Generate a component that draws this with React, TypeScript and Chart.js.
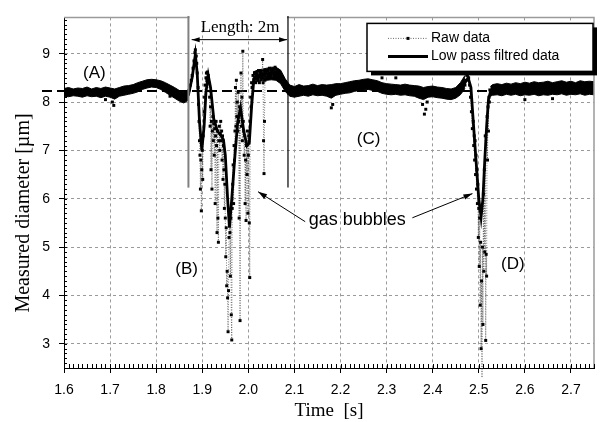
import { useEffect, useRef } from "react";
import { Chart, registerables } from "chart.js";

Chart.register(...registerables);

// ---------- data ----------
const X_TICKS = [1.6, 1.7, 1.8, 1.9, 2.0, 2.1, 2.2, 2.3, 2.4, 2.5, 2.6, 2.7];
const Y_TICKS = [3, 4, 5, 6, 7, 8, 9];
const REF_LEVEL = 8.23;

// low-pass filtered signal [time, diameter]
const filtered: [number, number][] = [
  [1.6, 8.2], [1.62, 8.21], [1.64, 8.2], [1.66, 8.19], [1.68, 8.2], [1.7, 8.2], [1.72, 8.23],
  [1.74, 8.27], [1.76, 8.32], [1.78, 8.38], [1.795, 8.4], [1.81, 8.36], [1.83, 8.28],
  [1.845, 8.18], [1.86, 8.09], [1.87, 8.15], [1.878, 8.5], [1.885, 8.98], [1.889, 8.6],
  [1.894, 7.6], [1.899, 7.0], [1.904, 7.5], [1.908, 8.2], [1.913, 8.55], [1.918, 8.3],
  [1.925, 7.65], [1.933, 7.4], [1.941, 7.3], [1.946, 7.22], [1.95, 6.9], [1.955, 6.0],
  [1.959, 5.4], [1.964, 6.0], [1.971, 6.9], [1.977, 7.6], [1.983, 7.88], [1.99, 7.4],
  [1.997, 7.1], [2.002, 7.15], [2.007, 7.9], [2.012, 8.48], [2.02, 8.52], [2.03, 8.55],
  [2.04, 8.58], [2.05, 8.6], [2.06, 8.62], [2.068, 8.55], [2.076, 8.4], [2.084, 8.28],
  [2.092, 8.22], [2.11, 8.2], [2.14, 8.21], [2.17, 8.22], [2.2, 8.25], [2.23, 8.3],
  [2.26, 8.35], [2.28, 8.33], [2.3, 8.27], [2.33, 8.25], [2.36, 8.23], [2.39, 8.2],
  [2.42, 8.19], [2.44, 8.17], [2.46, 8.26], [2.47, 8.4], [2.477, 8.5], [2.483, 8.3],
  [2.488, 7.6], [2.494, 6.8], [2.5, 6.0], [2.505, 5.62], [2.509, 6.0], [2.513, 6.8],
  [2.517, 7.5], [2.521, 8.05], [2.525, 8.2], [2.54, 8.24], [2.57, 8.25], [2.6, 8.26],
  [2.63, 8.27], [2.66, 8.28], [2.69, 8.28], [2.72, 8.29], [2.75, 8.29],
];

// raw samples through the first group of bubbles
const rawBubble1: [number, number][] = [
  [1.87, 8.18], [1.872, 8.25], [1.874, 8.35], [1.876, 8.45], [1.878, 8.55], [1.88, 8.7],
  [1.882, 8.85], [1.884, 9.02], [1.885, 9.08], [1.887, 8.95], [1.888, 8.8], [1.889, 8.6],
  [1.891, 8.3], [1.892, 7.95], [1.893, 7.6], [1.894, 7.2], [1.895, 6.9], [1.896, 6.2],
  [1.897, 6.8], [1.898, 5.75], [1.899, 6.6], [1.9, 7.0], [1.901, 6.4], [1.902, 7.3],
  [1.904, 7.8], [1.905, 8.1], [1.906, 8.35], [1.908, 8.5], [1.909, 8.6], [1.91, 8.45],
  [1.911, 8.62], [1.913, 8.55], [1.914, 8.4], [1.916, 8.1], [1.917, 7.5], [1.918, 7.9],
  [1.919, 6.6], [1.92, 7.6], [1.921, 6.2], [1.922, 7.4], [1.923, 7.7], [1.924, 7.2],
  [1.925, 7.55], [1.926, 6.9], [1.927, 7.45], [1.928, 5.9], [1.929, 7.3], [1.93, 7.6],
  [1.931, 7.1], [1.932, 5.3], [1.933, 7.4], [1.934, 5.6], [1.935, 5.1], [1.936, 7.2],
  [1.937, 7.5], [1.938, 7.0], [1.939, 7.35], [1.94, 7.6], [1.941, 7.2], [1.942, 7.4],
  [1.943, 6.8], [1.944, 7.3], [1.945, 6.4], [1.946, 7.1], [1.947, 6.6], [1.948, 5.8],
  [1.949, 6.3], [1.95, 5.6], [1.951, 4.8], [1.952, 5.4], [1.953, 4.2], [1.954, 4.5],
  [1.955, 3.95], [1.956, 3.25], [1.957, 4.1], [1.958, 5.2], [1.959, 5.45], [1.96, 5.3],
  [1.961, 4.4], [1.962, 5.6], [1.963, 3.6], [1.964, 3.08], [1.965, 5.8], [1.966, 6.3],
  [1.967, 6.7], [1.968, 5.9], [1.969, 7.1], [1.97, 6.8], [1.971, 7.4], [1.972, 8.3],
  [1.973, 7.5], [1.974, 8.45], [1.975, 7.7], [1.976, 8.0], [1.977, 7.4], [1.978, 8.2],
  [1.979, 7.6], [1.98, 5.6], [1.981, 7.9], [1.982, 3.48], [1.983, 7.8], [1.984, 8.6],
  [1.985, 7.5], [1.986, 8.1], [1.987, 7.2], [1.988, 9.05], [1.989, 7.6], [1.99, 7.4],
  [1.991, 6.9], [1.992, 7.3], [1.993, 5.9], [1.994, 6.8], [1.995, 5.55], [1.996, 7.1],
  [1.997, 6.5], [1.998, 7.4], [1.999, 5.7], [2.0, 6.9], [2.001, 7.3], [2.002, 5.5],
  [2.003, 4.37], [2.004, 7.6], [2.005, 8.1], [2.006, 7.9], [2.007, 8.4], [2.008, 8.3],
  [2.01, 8.55], [2.012, 8.45], [2.014, 8.6], [2.016, 8.4], [2.018, 8.55], [2.02, 8.5],
  [2.022, 8.65], [2.024, 8.4], [2.026, 8.55], [2.028, 8.6], [2.03, 8.5], [2.031, 8.88],
  [2.032, 8.4], [2.033, 7.2], [2.034, 6.52], [2.035, 7.6], [2.036, 8.45], [2.038, 8.6],
  [2.04, 8.5], [2.042, 8.65], [2.044, 8.55], [2.046, 8.7], [2.048, 8.55], [2.05, 8.62],
  [2.052, 8.5], [2.054, 8.68], [2.056, 8.58], [2.058, 8.72], [2.06, 8.6], [2.062, 8.66],
  [2.064, 8.55], [2.066, 8.62], [2.068, 8.5], [2.07, 8.58], [2.072, 8.45], [2.074, 8.5],
  [2.076, 8.38], [2.078, 8.42], [2.08, 8.3], [2.082, 8.35], [2.084, 8.25], [2.086, 8.3],
  [2.088, 8.18], [2.09, 8.24], [2.092, 8.15],
];

// raw samples through the second bubble
const rawBubble2: [number, number][] = [
  [2.47, 8.35], [2.472, 8.45], [2.474, 8.55], [2.476, 8.6], [2.478, 8.5], [2.48, 8.35],
  [2.482, 8.1], [2.484, 7.8], [2.486, 7.45], [2.488, 7.6], [2.489, 7.1], [2.49, 7.3],
  [2.491, 6.8], [2.492, 7.2], [2.493, 6.5], [2.494, 6.9], [2.495, 6.2], [2.496, 6.6],
  [2.497, 5.9], [2.498, 6.3], [2.499, 5.2], [2.5, 5.8], [2.501, 4.6], [2.502, 5.6],
  [2.503, 3.8], [2.504, 5.1], [2.505, 2.9], [2.506, 4.3], [2.507, 2.3], [2.508, 5.0],
  [2.509, 3.4], [2.51, 6.1], [2.511, 4.5], [2.512, 6.6], [2.513, 4.9], [2.514, 7.3],
  [2.515, 3.07], [2.516, 4.85], [2.517, 4.4], [2.518, 7.7], [2.519, 6.8], [2.52, 7.9],
  [2.521, 7.4], [2.522, 8.1], [2.523, 8.0], [2.524, 8.25], [2.526, 8.2],
];

// isolated raw samples off the noise band
const rawOutliers: [number, number][] = [
  [1.705, 8.0], [1.708, 7.93], [1.69, 8.05], [1.83, 8.12], [2.18, 7.88], [2.183, 7.95],
  [2.32, 8.5], [2.378, 7.95], [2.382, 7.75], [2.385, 7.85], [2.388, 8.0], [2.29, 8.5],
  [2.6, 8.05], [2.66, 8.07],
];

// dense noise band of the raw signal [time, low, high]
const band1: [number, number, number][] = [
  [1.6, 8.12, 8.28], [1.61, 8.11, 8.3], [1.62, 8.13, 8.27], [1.63, 8.12, 8.29],
  [1.64, 8.1, 8.28], [1.65, 8.13, 8.31], [1.66, 8.11, 8.27], [1.67, 8.12, 8.3],
  [1.68, 8.09, 8.28], [1.69, 8.12, 8.31], [1.7, 8.1, 8.29], [1.71, 8.06, 8.27],
  [1.72, 8.12, 8.3], [1.73, 8.14, 8.33], [1.74, 8.16, 8.34], [1.75, 8.18, 8.36],
  [1.76, 8.21, 8.4], [1.77, 8.26, 8.43], [1.78, 8.29, 8.46], [1.79, 8.31, 8.47],
  [1.8, 8.3, 8.46], [1.81, 8.26, 8.44], [1.82, 8.2, 8.4], [1.83, 8.14, 8.35],
  [1.84, 8.08, 8.3], [1.85, 8.02, 8.24], [1.86, 7.98, 8.2], [1.87, 8.04, 8.26],
];
const band2: [number, number, number][] = [
  [2.01, 8.4, 8.62], [2.02, 8.42, 8.66], [2.03, 8.44, 8.68], [2.04, 8.45, 8.7],
  [2.05, 8.46, 8.72], [2.06, 8.45, 8.72], [2.07, 8.38, 8.66], [2.08, 8.22, 8.48],
  [2.09, 8.12, 8.35], [2.1, 8.1, 8.32], [2.11, 8.12, 8.36], [2.12, 8.14, 8.33],
  [2.13, 8.12, 8.34], [2.14, 8.15, 8.37], [2.15, 8.13, 8.34], [2.16, 8.14, 8.36],
  [2.17, 8.12, 8.35], [2.18, 8.08, 8.36], [2.19, 8.14, 8.38], [2.2, 8.16, 8.38],
  [2.21, 8.18, 8.4], [2.22, 8.19, 8.42], [2.23, 8.22, 8.44], [2.24, 8.24, 8.45],
  [2.25, 8.25, 8.47], [2.26, 8.26, 8.48], [2.27, 8.24, 8.46], [2.28, 8.22, 8.44],
  [2.29, 8.18, 8.4], [2.3, 8.16, 8.38], [2.31, 8.15, 8.37], [2.32, 8.16, 8.36],
  [2.33, 8.14, 8.35], [2.34, 8.15, 8.37], [2.35, 8.13, 8.35], [2.36, 8.12, 8.34],
  [2.37, 8.08, 8.33], [2.38, 8.05, 8.3], [2.39, 8.1, 8.32], [2.4, 8.11, 8.33],
  [2.41, 8.09, 8.31], [2.42, 8.08, 8.3], [2.43, 8.06, 8.28], [2.44, 8.05, 8.27],
  [2.45, 8.08, 8.3], [2.46, 8.15, 8.4], [2.47, 8.28, 8.55],
];
const band3: [number, number, number][] = [
  [2.525, 8.12, 8.32], [2.53, 8.14, 8.36], [2.54, 8.15, 8.38], [2.55, 8.13, 8.36],
  [2.56, 8.16, 8.39], [2.57, 8.14, 8.37], [2.58, 8.16, 8.4], [2.59, 8.13, 8.38],
  [2.6, 8.15, 8.41], [2.61, 8.14, 8.39], [2.62, 8.16, 8.42], [2.63, 8.13, 8.4],
  [2.64, 8.15, 8.41], [2.65, 8.14, 8.43], [2.66, 8.16, 8.4], [2.67, 8.15, 8.42],
  [2.68, 8.17, 8.44], [2.69, 8.14, 8.41], [2.7, 8.16, 8.43], [2.71, 8.15, 8.4],
  [2.72, 8.17, 8.44], [2.73, 8.14, 8.42], [2.74, 8.16, 8.43], [2.75, 8.15, 8.42],
];

// annotation anchors in data units
const LENGTH_LINES = { left: 1.87, right: 2.086, top: 9.78, bottom: 6.23 };
const LENGTH_ARROW = { from: 1.877, to: 2.084, level: 9.29 };
const LENGTH_TEXT = { text: "Length: 2m", t: 1.982, v: 9.536 };
const REGION_LABELS: [string, number, number][] = [
  ["(A)", 1.666, 8.596],
  ["(B)", 1.866, 4.546],
  ["(C)", 2.261, 7.236],
  ["(D)", 2.574, 4.636],
];
const BUBBLE_TEXT = { text: "gas bubbles", t: 2.2363, v: 5.566 };
const BUBBLE_ARROWS: [number, number, number, number][] = [
  [2.1233, 5.526, 2.0211, 6.146],
  [2.3559, 5.606, 2.4863, 6.106],
];
const LEGEND_ITEMS = ["Raw data", "Low pass filtred data"];

const SANS = '"Liberation Sans", Arial, sans-serif';
const SERIF = '"Liberation Serif", "Times New Roman", serif';

const pts = (arr: [number, number][]) => arr.map(([x, y]) => ({ x, y }));

function arrowHead(ctx: CanvasRenderingContext2D, x1: number, y1: number, x2: number, y2: number, len: number, half: number) {
  const a = Math.atan2(y2 - y1, x2 - x1);
  ctx.beginPath();
  ctx.moveTo(x2, y2);
  ctx.lineTo(x2 - len * Math.cos(a) + half * Math.sin(a), y2 - len * Math.sin(a) - half * Math.cos(a));
  ctx.lineTo(x2 - len * Math.cos(a) - half * Math.sin(a), y2 - len * Math.sin(a) + half * Math.cos(a));
  ctx.closePath();
  ctx.fill();
}

const decoPlugin = {
  id: "deco",
  beforeDatasetsDraw(chart: any) {
    const { ctx, chartArea: a, scales } = chart;
    const py = scales.y.getPixelForValue(REF_LEVEL);
    ctx.save();
    ctx.strokeStyle = "#000";
    ctx.lineWidth = 2;
    ctx.setLineDash([10, 5]);
    ctx.beginPath();
    ctx.moveTo(a.left - 22, py);
    ctx.lineTo(a.right, py);
    ctx.stroke();
    ctx.restore();
  },
  afterDatasetsDraw(chart: any) {
    const { ctx, chartArea: a, scales } = chart;
    const xs = scales.x;
    const ys = scales.y;
    ctx.save();

    // frame top/right
    ctx.strokeStyle = "#9a9a9a";
    ctx.lineWidth = 1.5;
    ctx.beginPath();
    ctx.moveTo(a.left, a.top);
    ctx.lineTo(a.right, a.top);
    ctx.lineTo(a.right, a.bottom);
    ctx.stroke();

    // minor ticks
    ctx.strokeStyle = "#000";
    ctx.lineWidth = 1;
    ctx.beginPath();
    for (let i = 0; i <= 115; i++) {
      const px = Math.round(xs.getPixelForValue(1.6 + i * 0.01)) + 0.5;
      ctx.moveTo(px, a.bottom);
      ctx.lineTo(px, a.bottom - 4);
    }
    for (let i = 0; i <= 72; i++) {
      const py = Math.round(ys.getPixelForValue(2.5 + i * 0.1)) + 0.5;
      ctx.moveTo(a.left, py);
      ctx.lineTo(a.left + 3, py);
    }
    ctx.stroke();

    // length annotation
    const lx = xs.getPixelForValue(LENGTH_LINES.left);
    const rx = xs.getPixelForValue(LENGTH_LINES.right);
    ctx.fillStyle = "#fff";
    ctx.fillRect(lx + 1, 0, rx - lx - 2, 26);
    ctx.strokeStyle = "#808080";
    ctx.lineWidth = 2;
    ctx.beginPath();
    ctx.moveTo(lx, ys.getPixelForValue(LENGTH_LINES.top));
    ctx.lineTo(lx, ys.getPixelForValue(LENGTH_LINES.bottom));
    ctx.stroke();
    ctx.strokeStyle = "#000";
    ctx.lineWidth = 1.2;
    ctx.beginPath();
    ctx.moveTo(rx, ys.getPixelForValue(LENGTH_LINES.top));
    ctx.lineTo(rx, ys.getPixelForValue(LENGTH_LINES.bottom));
    ctx.stroke();
    const ay = ys.getPixelForValue(LENGTH_ARROW.level);
    const ax1 = xs.getPixelForValue(LENGTH_ARROW.from);
    const ax2 = xs.getPixelForValue(LENGTH_ARROW.to);
    ctx.lineWidth = 1;
    ctx.beginPath();
    ctx.moveTo(ax1, ay);
    ctx.lineTo(ax2, ay);
    ctx.stroke();
    ctx.fillStyle = "#000";
    arrowHead(ctx, ax2, ay, ax1, ay, 8, 2.5);
    arrowHead(ctx, ax1, ay, ax2, ay, 8, 2.5);
    ctx.font = `17px ${SERIF}`;
    ctx.textAlign = "center";
    ctx.textBaseline = "middle";
    ctx.fillText(LENGTH_TEXT.text, xs.getPixelForValue(LENGTH_TEXT.t), ys.getPixelForValue(LENGTH_TEXT.v));

    // region labels
    ctx.font = `17px ${SANS}`;
    for (const [txt, t, v] of REGION_LABELS) {
      ctx.fillText(txt, xs.getPixelForValue(t), ys.getPixelForValue(v));
    }
    ctx.font = `18px ${SANS}`;
    ctx.fillText(BUBBLE_TEXT.text, xs.getPixelForValue(BUBBLE_TEXT.t), ys.getPixelForValue(BUBBLE_TEXT.v));
    ctx.lineWidth = 1;
    for (const [t1, v1, t2, v2] of BUBBLE_ARROWS) {
      const x1 = xs.getPixelForValue(t1), y1 = ys.getPixelForValue(v1);
      const x2 = xs.getPixelForValue(t2), y2 = ys.getPixelForValue(v2);
      ctx.beginPath();
      ctx.moveTo(x1, y1);
      ctx.lineTo(x2, y2);
      ctx.stroke();
      arrowHead(ctx, x1, y1, x2, y2, 9, 2.8);
    }

    // legend with drop shadow
    const bw = 226, bh = 48;
    const bx = a.right - 1 - bw, by = a.top + 6;
    ctx.fillStyle = "#000";
    ctx.fillRect(bx + 4, by + 4, bw, bh);
    ctx.fillStyle = "#fff";
    ctx.fillRect(bx, by, bw, bh);
    ctx.strokeStyle = "#000";
    ctx.lineWidth = 1.5;
    ctx.strokeRect(bx, by, bw, bh);
    const r1 = by + 15, r2 = by + 33;
    const sx1 = bx + 21, sx2 = bx + 61;
    ctx.strokeStyle = "#444";
    ctx.lineWidth = 0.8;
    ctx.setLineDash([1, 1.5]);
    ctx.beginPath();
    ctx.moveTo(sx1, r1);
    ctx.lineTo(sx2, r1);
    ctx.stroke();
    ctx.setLineDash([]);
    ctx.fillStyle = "#000";
    ctx.fillRect((sx1 + sx2) / 2 - 1.5, r1 - 1.5, 3, 3);
    ctx.strokeStyle = "#000";
    ctx.lineWidth = 3;
    ctx.beginPath();
    ctx.moveTo(sx1, r2);
    ctx.lineTo(sx2, r2);
    ctx.stroke();
    ctx.font = `14px ${SANS}`;
    ctx.textAlign = "left";
    ctx.textBaseline = "middle";
    ctx.fillText(LEGEND_ITEMS[0], bx + 64, r1);
    ctx.fillText(LEGEND_ITEMS[1], bx + 64, r2);

    // y axis title
    ctx.save();
    ctx.translate(24, 213);
    ctx.rotate(-Math.PI / 2);
    ctx.font = `20px ${SERIF}`;
    ctx.textAlign = "center";
    ctx.textBaseline = "middle";
    ctx.fillText("Measured diameter [µm]", 0, 0);
    ctx.restore();

    ctx.restore();
  },
};

export default function App() {
  const ref = useRef<HTMLCanvasElement | null>(null);

  useEffect(() => {
    document.body.style.margin = "0";
    const canvas = ref.current;
    if (!canvas) return;

    const rawStyle = {
      showLine: true,
      borderColor: "#444",
      borderWidth: 0.7,
      borderDash: [1, 1.5],
      pointStyle: "rect",
      pointRadius: 2.1,
      pointBackgroundColor: "#000",
      pointBorderColor: "#000",
      pointBorderWidth: 0,
      fill: false,
      clip: false,
      order: 2,
    };

    const bandSets: any[] = [];
    for (const seg of [band1, band2, band3]) {
      bandSets.push({
        data: seg.map(([x, lo]) => ({ x, y: lo })),
        showLine: true,
        borderColor: "#000",
        borderWidth: 1,
        pointRadius: 0,
        fill: false,
        order: 5,
      });
      bandSets.push({
        data: seg.map(([x, , hi]) => ({ x, y: hi })),
        showLine: true,
        borderColor: "#000",
        backgroundColor: "#000",
        borderWidth: 1,
        pointRadius: 0,
        fill: "-1",
        order: 5,
      });
    }

    const chart = new Chart(canvas, {
      type: "scatter",
      data: {
        datasets: [
          {
            data: pts(filtered),
            showLine: true,
            borderColor: "#000",
            borderWidth: 2.8,
            pointRadius: 0,
            fill: false,
            order: 1,
          },
          { ...rawStyle, data: pts(rawBubble1) },
          { ...rawStyle, data: pts(rawBubble2) },
          { ...rawStyle, showLine: false, data: pts(rawOutliers), order: 3 },
          ...bandSets,
        ] as any,
      },
      options: {
        animation: false,
        responsive: false,
        devicePixelRatio: 1,
        events: [],
        layout: { padding: { top: 7, right: 6, left: 0, bottom: 0 } },
        plugins: { legend: { display: false }, tooltip: { enabled: false } },
        scales: {
          x: {
            type: "linear",
            min: 1.6,
            max: 2.75,
            afterBuildTicks: (s: any) => {
              s.ticks = X_TICKS.map((v) => ({ value: v }));
            },
            afterFit: (s: any) => {
              s.height = 54;
            },
            ticks: {
              callback: (v: any) => Number(v).toFixed(1),
              font: { family: SANS, size: 14 },
              color: "#000",
              padding: 9,
              maxRotation: 0,
              autoSkip: false,
            },
            grid: { color: "#9a9a9a", lineWidth: 1, tickColor: "#000", tickLength: 5, tickWidth: 1 },
            border: { display: true, color: "#000", width: 1, dash: [3, 3] },
            title: {
              display: true,
              text: "Time  [s]",
              font: { family: SERIF, size: 19 },
              color: "#000",
              padding: { top: 0, bottom: 0 },
            },
          },
          y: {
            type: "linear",
            min: 2.5,
            max: 9.75,
            afterBuildTicks: (s: any) => {
              s.ticks = Y_TICKS.map((v) => ({ value: v }));
            },
            afterFit: (s: any) => {
              s.width = 64;
            },
            ticks: {
              callback: (v: any) => String(v),
              font: { family: SANS, size: 14 },
              color: "#000",
              padding: 9,
            },
            grid: { color: "#9a9a9a", lineWidth: 1, tickColor: "#000", tickLength: 5, tickWidth: 1 },
            border: { display: true, color: "#000", width: 1, dash: [3, 3] },
          },
        },
      } as any,
      plugins: [decoPlugin],
    });

    return () => chart.destroy();
  }, []);

  return (
    <div style={{ width: 600, height: 422 }}>
      <canvas ref={ref} width={600} height={422} style={{ display: "block" }} />
    </div>
  );
}
